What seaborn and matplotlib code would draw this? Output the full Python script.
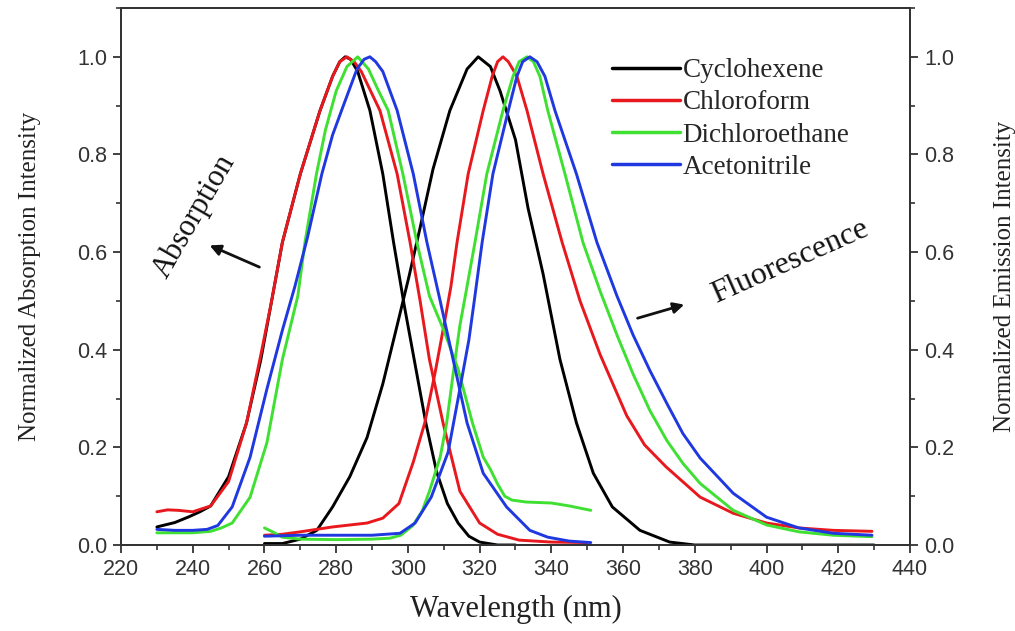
import matplotlib
matplotlib.use("Agg")
import matplotlib.pyplot as plt
from matplotlib.ticker import MultipleLocator
import seaborn as sns
import pandas as pd

# ---------------- data ----------------
solvents = ["Cyclohexene", "Chloroform", "Dichloroethane", "Acetonitrile"]
colors = ["#000000", "#e8191e", "#3fe032", "#1f38e0"]

# Absorption spectra
abs_cyc_x = [230, 235, 239, 242, 245, 250, 255, 259, 262, 265, 270, 275.5, 279, 281, 282.5, 284, 286, 289.4, 293, 296, 299, 302, 305, 308, 311, 314, 317, 320, 325, 330]
abs_cyc_y = [0.037, 0.046, 0.058, 0.068, 0.08, 0.14, 0.25, 0.38, 0.50, 0.62, 0.76, 0.89, 0.96, 0.99, 1.0, 0.995, 0.97, 0.89, 0.76, 0.62, 0.49, 0.37, 0.25, 0.15, 0.085, 0.045, 0.018, 0.006, 0.0, 0.0]

abs_chl_x = [230, 233, 236, 240, 245, 250, 255, 259, 262, 265, 270, 275.5, 279, 281, 283, 285, 287, 292.2, 297, 300.6, 303.4, 306, 309.8, 314.5, 320, 325, 331, 340, 350]
abs_chl_y = [0.068, 0.072, 0.071, 0.068, 0.08, 0.13, 0.25, 0.39, 0.50, 0.62, 0.76, 0.89, 0.96, 0.99, 1.0, 0.99, 0.97, 0.89, 0.76, 0.62, 0.50, 0.38, 0.25, 0.11, 0.045, 0.022, 0.01, 0.006, 0.005]

abs_dce_x = [230, 235, 240, 245, 248, 251, 256, 260.7, 265, 269.3, 271.3, 274.5, 277, 280, 283, 286, 289, 291.5, 294.5, 298.6, 302.5, 306, 310, 314, 318, 321, 323, 325, 327, 329, 333, 340, 345, 351]
abs_dce_y = [0.025, 0.025, 0.025, 0.028, 0.035, 0.045, 0.098, 0.21, 0.38, 0.51, 0.62, 0.76, 0.85, 0.93, 0.98, 1.0, 0.975, 0.935, 0.89, 0.76, 0.62, 0.51, 0.44, 0.36, 0.25, 0.18, 0.155, 0.125, 0.10, 0.092, 0.088, 0.086, 0.08, 0.071]

abs_ace_x = [230, 235, 240, 244, 247, 251, 256, 260.7, 265, 268.5, 272, 276, 279, 282, 285.8, 287.8, 289.4, 291, 293, 297, 301.5, 305.3, 309, 312.6, 316.5, 321, 327.5, 334, 339, 345, 351]
abs_ace_y = [0.032, 0.03, 0.03, 0.032, 0.04, 0.078, 0.18, 0.32, 0.44, 0.53, 0.63, 0.76, 0.84, 0.90, 0.975, 0.995, 1.0, 0.99, 0.97, 0.89, 0.76, 0.62, 0.50, 0.38, 0.25, 0.147, 0.078, 0.03, 0.016, 0.008, 0.005]

# Fluorescence spectra
fl_cyc_x = [260, 265, 270, 274.6, 279, 283.8, 288.6, 293, 297, 300.3, 303.4, 307, 311.7, 316.5, 319.6, 323, 325.7, 330, 333.5, 337.7, 342.4, 347, 351.7, 357, 364.7, 373, 380, 400, 430]
fl_cyc_y = [0.003, 0.003, 0.012, 0.03, 0.078, 0.14, 0.22, 0.33, 0.45, 0.55, 0.65, 0.77, 0.89, 0.975, 1.0, 0.98, 0.93, 0.83, 0.69, 0.555, 0.38, 0.25, 0.147, 0.078, 0.03, 0.006, 0.0, 0.0, 0.0]

fl_chl_x = [260, 265, 270, 279, 288.6, 293, 297.5, 301.5, 304.7, 307.5, 310.3, 312, 313.7, 316.8, 321, 323.5, 325, 326.5, 328, 330.4, 333.2, 337.7, 343, 348, 353.6, 361, 366, 372, 381.5, 390.7, 400, 409, 418.6, 429.4]
fl_chl_y = [0.02, 0.022, 0.027, 0.037, 0.045, 0.055, 0.085, 0.17, 0.25, 0.35, 0.46, 0.53, 0.62, 0.76, 0.89, 0.96, 0.99, 1.0, 0.99, 0.96, 0.89, 0.76, 0.62, 0.50, 0.39, 0.265, 0.205, 0.16, 0.098, 0.065, 0.045, 0.035, 0.03, 0.028]

fl_dce_x = [260, 262, 265, 270, 280, 290, 295, 298, 301.4, 304, 306, 309, 310.8, 312.6, 314.5, 316, 318.7, 322, 326.5, 329.3, 331, 333.2, 335, 336.8, 339, 343.8, 348.8, 353.6, 358.3, 362.8, 367.5, 372.2, 376.7, 381.5, 390.7, 400, 409, 418.6, 429.4]
fl_dce_y = [0.035, 0.028, 0.016, 0.012, 0.011, 0.012, 0.014, 0.02, 0.04, 0.07, 0.11, 0.18, 0.25, 0.35, 0.45, 0.51, 0.62, 0.76, 0.89, 0.96, 0.99, 1.0, 0.99, 0.96, 0.89, 0.76, 0.62, 0.52, 0.43, 0.35, 0.275, 0.214, 0.167, 0.126, 0.071, 0.041, 0.027, 0.02, 0.017]

fl_ace_x = [260, 270, 280, 290, 297.8, 302, 306.5, 311.2, 314, 317, 318.5, 320.7, 323.7, 328, 330.4, 332, 334, 336, 338.2, 341, 347, 352.7, 358.3, 362.8, 367.5, 372.2, 376.7, 381.5, 390.7, 400, 409, 418.6, 429.4]
fl_ace_y = [0.018, 0.02, 0.02, 0.02, 0.024, 0.045, 0.098, 0.19, 0.30, 0.42, 0.50, 0.62, 0.76, 0.89, 0.96, 0.99, 1.0, 0.99, 0.96, 0.89, 0.76, 0.62, 0.51, 0.43, 0.357, 0.29, 0.228, 0.178, 0.106, 0.057, 0.035, 0.024, 0.02]

x_ticks = [220, 240, 260, 280, 300, 320, 340, 360, 380, 400, 420, 440]
y_ticks = [0.0, 0.2, 0.4, 0.6, 0.8, 1.0]

abs_x = [abs_cyc_x, abs_chl_x, abs_dce_x, abs_ace_x]
abs_y = [abs_cyc_y, abs_chl_y, abs_dce_y, abs_ace_y]
fl_x = [fl_cyc_x, fl_chl_x, fl_dce_x, fl_ace_x]
fl_y = [fl_cyc_y, fl_chl_y, fl_dce_y, fl_ace_y]

# ---------------- plotting ----------------
sns.set_style("ticks")
plt.rcParams["font.family"] = ["Liberation Serif", "DejaVu Serif"]

fig = plt.figure(figsize=(10.15, 6.31), dpi=100)
ax = fig.add_axes([121 / 1015, 1 - 545 / 631, (910 - 121) / 1015, (545 - 8) / 631])

for name, c, ax_, ay_, fx_, fy_ in zip(solvents, colors, abs_x, abs_y, fl_x, fl_y):
    d_abs = pd.DataFrame({"x": ax_, "y": ay_})
    d_fl = pd.DataFrame({"x": fx_, "y": fy_})
    sns.lineplot(data=d_abs, x="x", y="y", ax=ax, color=c, linewidth=2.1,
                 estimator=None, sort=False, label="_nolegend_")
    sns.lineplot(data=d_fl, x="x", y="y", ax=ax, color=c, linewidth=2.1,
                 estimator=None, sort=False, label=name)

ax.set_xlim(220, 440)
ax.set_ylim(0, 1.1)
ax.set_xticks(x_ticks)
ax.set_yticks(y_ticks)
ax.xaxis.set_minor_locator(MultipleLocator(10))
ax.yaxis.set_minor_locator(MultipleLocator(0.1))

tick_font = dict(family="Liberation Sans", size=15.5)
ax.set_xticklabels([str(v) for v in x_ticks], fontdict=tick_font, color="#333333")
ax.set_yticklabels([f"{v:.1f}" for v in y_ticks], fontdict=tick_font, color="#333333")

for sp in ax.spines.values():
    sp.set_linewidth(1.3)
    sp.set_color("#333333")
ax.tick_params(which="major", direction="out", length=6, width=1.3, color="#333333", pad=4)
ax.tick_params(which="minor", direction="out", length=3.5, width=1.2, color="#333333")
ax.tick_params(top=False, which="both")

ax.set_xlabel("Wavelength (nm)", fontsize=22, color="#222222", labelpad=11)
ax.set_ylabel("Normalized Absorption Intensity", fontsize=18, color="#222222", labelpad=26)

ax2 = ax.twinx()
ax2.set_ylim(0, 1.1)
ax2.set_yticks(y_ticks)
ax2.yaxis.set_minor_locator(MultipleLocator(0.1))
ax2.set_yticklabels([f"{v:.1f}" for v in y_ticks], fontdict=tick_font, color="#333333")
ax2.tick_params(which="major", direction="out", length=6, width=1.3, color="#333333", pad=4)
ax2.tick_params(which="minor", direction="out", length=3.5, width=1.2, color="#333333")
for sp in ax2.spines.values():
    sp.set_linewidth(1.3)
    sp.set_color("#333333")
ax2.set_ylabel("Normalized Emission Intensity", fontsize=18, color="#222222", labelpad=29)

# annotations
ax.text(240.4, 0.673, "Absorption", rotation=60, fontsize=22, ha="center", va="center", color="#111111")
ax.annotate("", xy=(244.0, 0.616), xytext=(259.3, 0.567),
            arrowprops=dict(arrowstyle="-|>", color="#111111", lw=2, mutation_scale=16))
ax.text(406.6, 0.58, "Fluorescence", rotation=24, fontsize=23, ha="center", va="center", color="#111111")
ax.annotate("", xy=(377.8, 0.494), xytext=(363.3, 0.463),
            arrowprops=dict(arrowstyle="-|>", color="#111111", lw=2, mutation_scale=16))

leg = ax.legend(loc="upper left", bbox_to_anchor=(612 / 1015, 1 - 58 / 631),
                bbox_transform=fig.transFigure, frameon=False, fontsize=19.5,
                handlelength=2.5, handletextpad=0.1, labelspacing=0.27,
                borderpad=0, borderaxespad=0)
for line in leg.get_lines():
    line.set_linewidth(2.5)

fig.savefig("out.png", dpi=100)
